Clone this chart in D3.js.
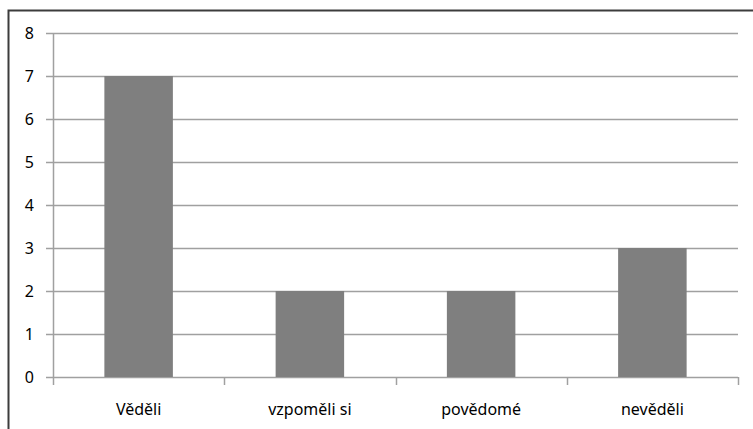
<!DOCTYPE html>
<html>
<head>
<meta charset="utf-8">
<script src="https://cdn.jsdelivr.net/npm/d3@7"></script>
<style>
  body { margin: 0; background: #fff; }
  svg text { font-family: "Noto Sans", "Open Sans", sans-serif; fill: #000; }
</style>
</head>
<body>
<script>
// chart data
const categories = ['Věděli', 'vzpoměli si', 'povědomé', 'nevěděli'];
const values = [7, 2, 2, 3];
const yTicks = [0, 1, 2, 3, 4, 5, 6, 7, 8];

const W = 753, H = 429;
const margin = {top: 33, right: 15, bottom: 52, left: 53};

let svg = d3.select('body')
   .append('svg')
   .attr('width', W)
   .attr('height', H);

// outer frame (right and bottom run off the picture)
svg.append('rect')
   .attr('x', 8.5)
   .attr('y', 10.5)
   .attr('width', W + 10)
   .attr('height', H + 10)
   .attr('fill', 'none')
   .attr('stroke', '#3c3c3c')
   .attr('stroke-width', 2);

let x = d3.scaleBand()
   .domain(categories)
   .range([margin.left, W - margin.right])
   .paddingInner(0.6)
   .paddingOuter(0.3);

let y = d3.scaleLinear()
   .domain([0, 8])
   .range([H - margin.bottom, margin.top]);

// gridlines
svg.append('g')
   .selectAll('line')
   .data(yTicks)
   .enter()
   .append('line')
   .attr('x1', margin.left - 7)
   .attr('x2', W - margin.right)
   .attr('y1', d => Math.round(y(d)) + 0.5)
   .attr('y2', d => Math.round(y(d)) + 0.5)
   .attr('stroke', '#a0a0a0')
   .attr('stroke-width', 1.5);

// bars
svg.append('g')
   .selectAll('rect')
   .data(values)
   .enter()
   .append('rect')
   .attr('x', (d, i) => x(categories[i]))
   .attr('y', d => y(d))
   .attr('width', x.bandwidth())
   .attr('height', d => y(0) - y(d))
   .attr('fill', '#7f7f7f');

// y axis line
svg.append('line')
   .attr('x1', margin.left + 0.5)
   .attr('x2', margin.left + 0.5)
   .attr('y1', y(8))
   .attr('y2', y(0))
   .attr('stroke', '#a0a0a0')
   .attr('stroke-width', 1.5);

// category tick marks at band boundaries
let step = x.step();
let bounds = d3.range(categories.length + 1).map(i => margin.left + i * step);
svg.append('g')
   .selectAll('line')
   .data(bounds)
   .enter()
   .append('line')
   .attr('x1', d => Math.round(d) + 0.5)
   .attr('x2', d => Math.round(d) + 0.5)
   .attr('y1', y(0))
   .attr('y2', y(0) + 8)
   .attr('stroke', '#a0a0a0')
   .attr('stroke-width', 1.5);

// y labels
svg.append('g')
   .selectAll('text')
   .data(yTicks)
   .enter()
   .append('text')
   .attr('x', 34)
   .attr('y', d => y(d))
   .attr('dy', '0.36em')
   .style('text-anchor', 'end')
   .style('font-size', '16px')
   .text(d => d);

// x labels
svg.append('g')
   .selectAll('text')
   .data(categories)
   .enter()
   .append('text')
   .attr('x', d => x(d) + x.bandwidth() / 2)
   .attr('y', y(0) + 32)
   .attr('dy', '0.36em')
   .style('text-anchor', 'middle')
   .style('font-size', '16px')
   .text(d => d);
</script>
</body>
</html>
